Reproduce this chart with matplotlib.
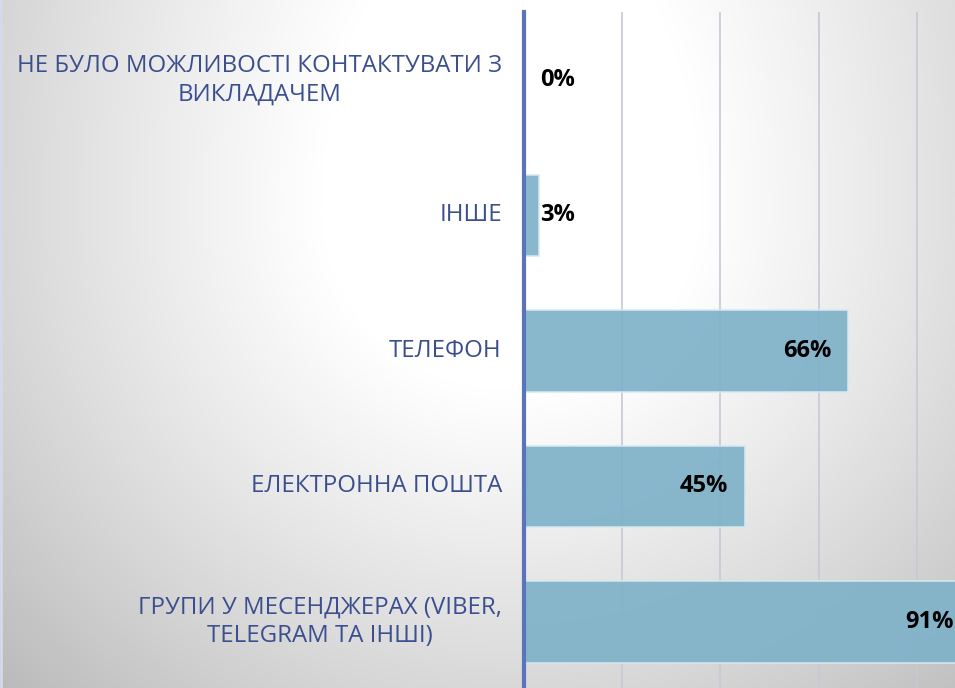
import numpy as np
import matplotlib.pyplot as plt

# chart data (bottom bar first)
categories = ["ГРУПИ У МЕСЕНДЖЕРАХ (VIBER,\nTELEGRAM ТА ІНШІ)",
              "ЕЛЕКТРОННА ПОШТА",
              "ТЕЛЕФОН",
              "ІНШЕ",
              "НЕ БУЛО МОЖЛИВОСТІ КОНТАКТУВАТИ З\nВИКЛАДАЧЕМ"]
values = [91, 45, 66, 3, 0]
value_labels = ["91%", "45%", "66%", "3%", "0%"]

W, H = 955, 688
fig = plt.figure(figsize=[W / 100, H / 100], dpi=100)

# soft grey background, white glow around the upper middle
bg = fig.add_axes([0, 0, 1, 1], zorder=-10)
yy, xx = np.mgrid[0:H, 0:W]
dy = np.where(yy < 210, (yy - 210.0) * 0.6, (yy - 210.0) * 1.05)
d = np.sqrt((xx - 510.0) ** 2 + dy ** 2)
ex = np.clip(d - 190, 0, None)
shade = np.clip(1 - 0.00045 * ex - 0.00000012 * ex ** 2, 0, 1)
bg.imshow(np.dstack([shade] * 3), aspect="auto", extent=[0, W, H, 0])
bg.axvline(1.0, color="#d3daee", linewidth=2)
bg.set_xlim(0, W)
bg.set_ylim(H, 0)
bg.axis("off")

# main axes: axis line at x=524 px, 4.91 px per percent
px = 4.91
ax = fig.add_axes([524 / W, 1 - 689.75 / H, 100 * px / W, 677.5 / H])
ax.patch.set_alpha(0)
ypos = np.arange(len(values))
ax.barh(ypos, values, height=0.6, color="#7fb2c9", alpha=0.92,
        edgecolor="#d6e9f1", linewidth=1.2, zorder=3)
ax.set_xlim(0, 100)
ax.set_ylim(-0.5, 4.5)
ax.set_xticks([20, 40, 60, 80, 100])
ax.grid(axis="x", color="#c6c9d8", linewidth=1.2, zorder=1)
ax.tick_params(left=False, bottom=False, labelbottom=False, labelleft=False)
for s in ["top", "right", "bottom"]:
    ax.spines[s].set_visible(False)
ax.spines["left"].set_color("#5b73b8")
ax.spines["left"].set_linewidth(3)
ax.spines["left"].set_zorder(5)

for y, cat in zip(ypos, categories):
    ax.annotate(cat, xy=(0, y), xytext=(-16, 0), textcoords="offset points",
                ha="right", va="center", multialignment="center",
                fontsize=17.3, color="#3b4f8e", family="Open Sans",
                linespacing=1.25)

for y, v, lab in zip(ypos, values, value_labels):
    if v < 10:
        ax.annotate(lab, xy=(max(v, 3), y), xytext=(1.0, 0), textcoords="offset points",
                    ha="left", va="center", fontsize=17, fontweight="bold",
                    color="black", family="Open Sans", zorder=6)
    else:
        ax.annotate(lab, xy=(v, y), xytext=(-12, 0), textcoords="offset points",
                    ha="right", va="center", fontsize=17, fontweight="bold",
                    color="black", family="Open Sans", zorder=6, annotation_clip=False)

fig.savefig("out.png", dpi=100)
